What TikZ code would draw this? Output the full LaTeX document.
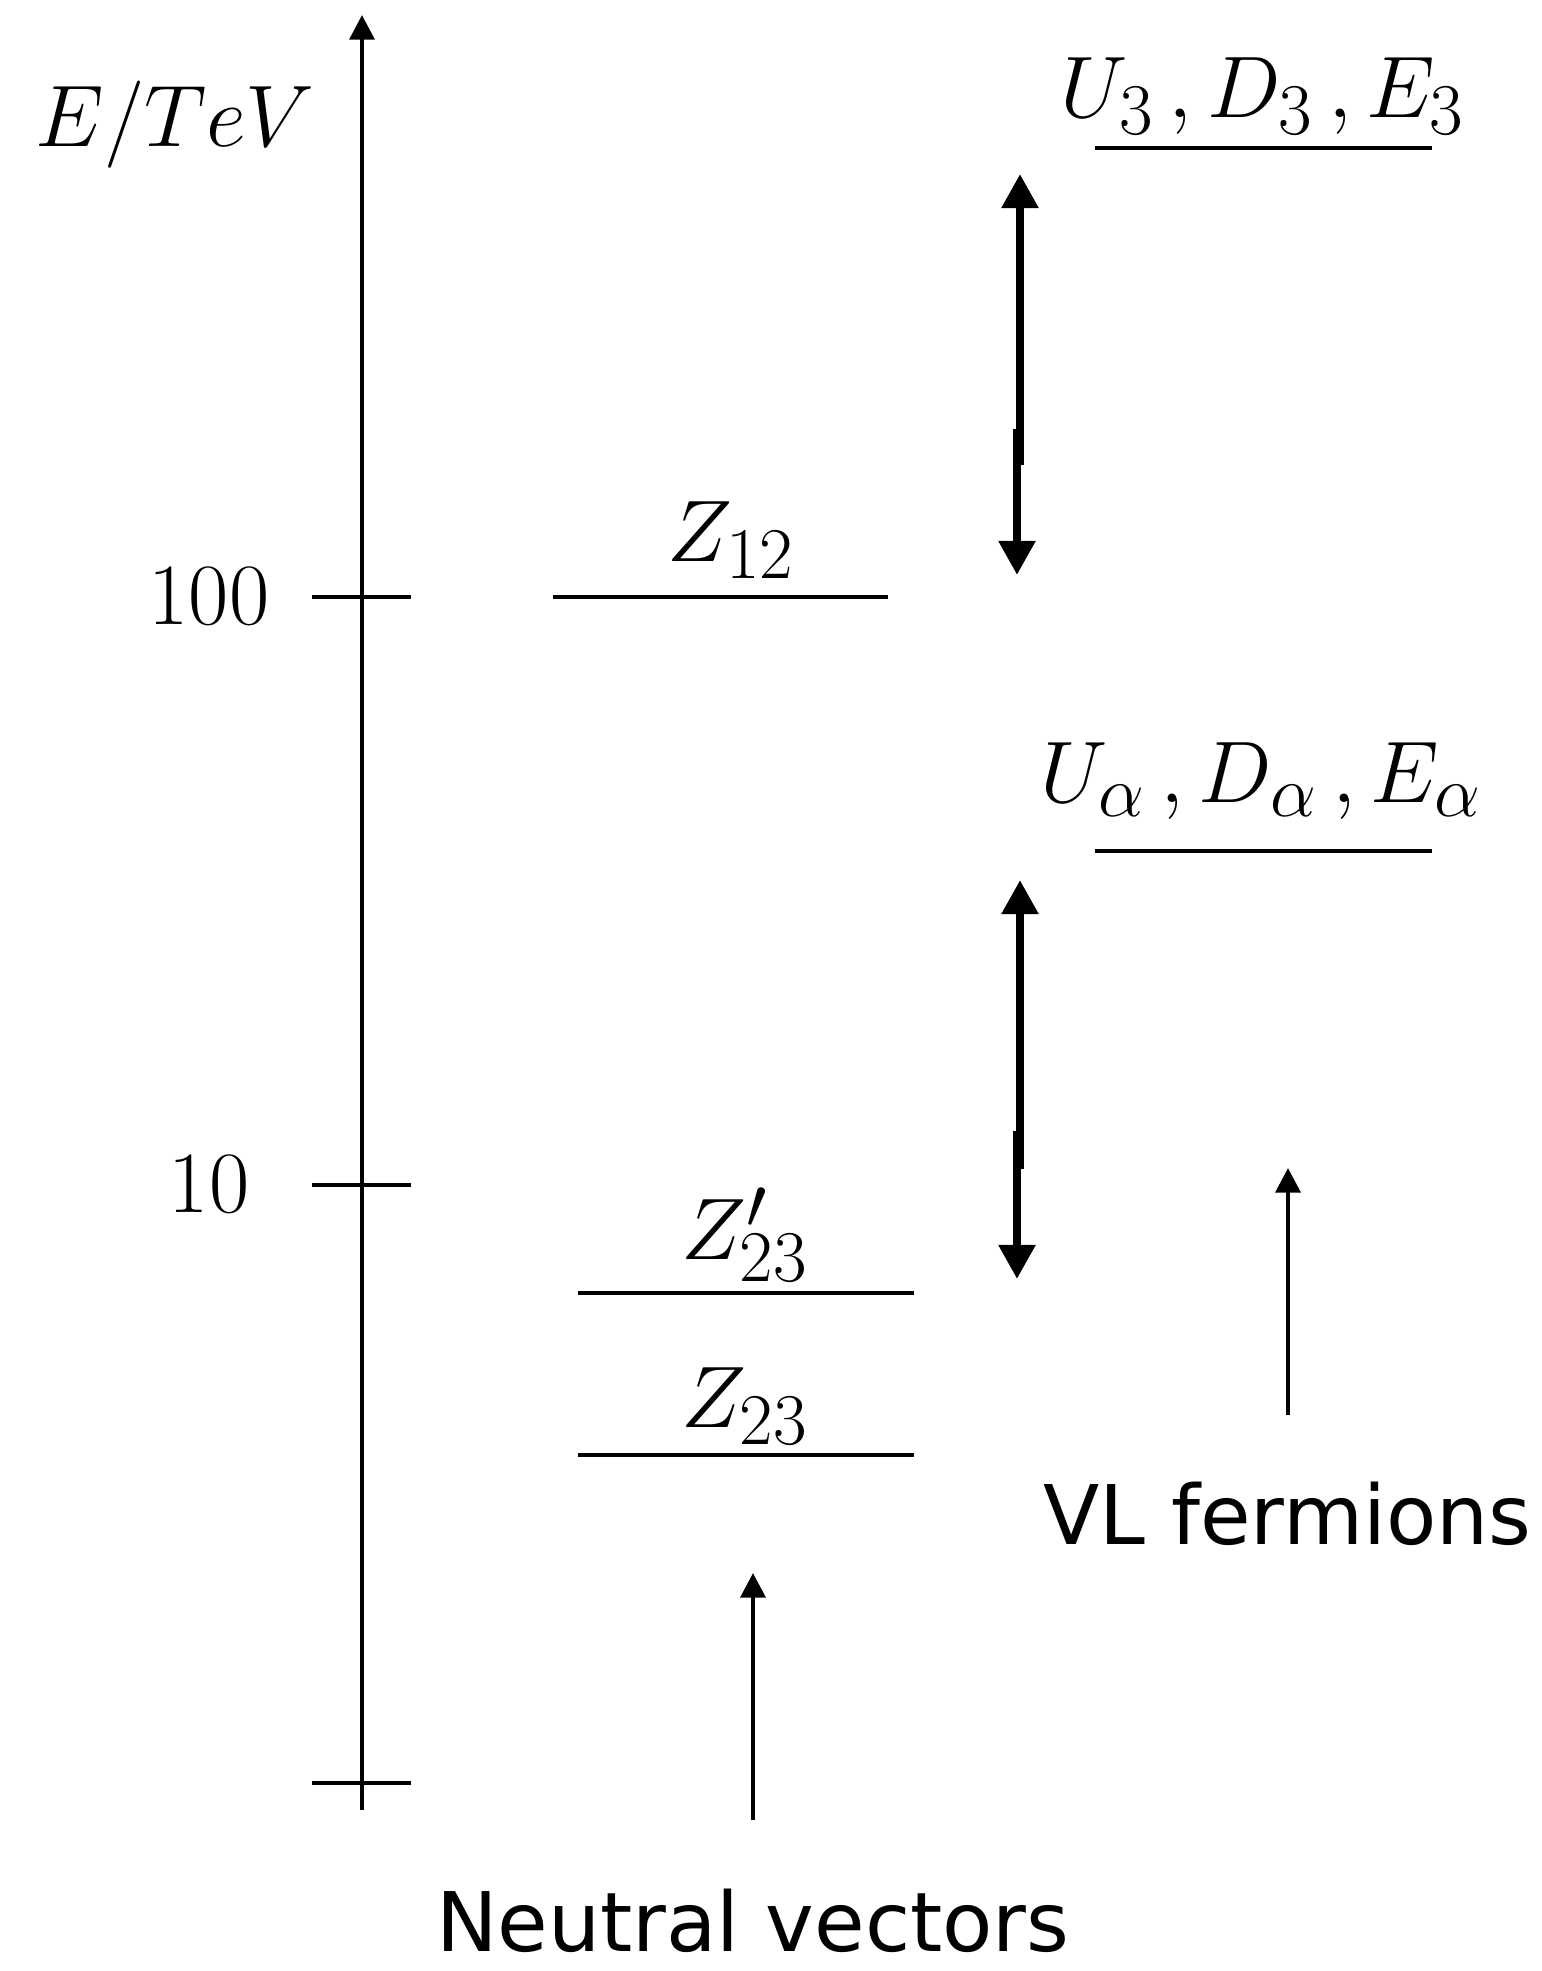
\documentclass[tikz,border=0pt]{standalone}
\usepackage{fontspec}
\newfontfamily\captionfont{DejaVu Sans}
\usetikzlibrary{arrows.meta}

\begin{document}
\begin{tikzpicture}[
    axis/.style={-{Triangle[length=7pt, width=7pt]}, line width=1.2pt},
    tickmark/.style={line width=1.2pt},
    level/.style={line width=1.2pt},
    gap/.style={-{Triangle[length=9.7pt, width=10pt]}, line width=2.3pt},
    pointer/.style={-{Triangle[length=7pt, width=7pt]}, line width=1.3pt},
    levellabel/.style={font=\Huge, anchor=base, inner sep=0pt},
    ticklabel/.style={font=\Huge, anchor=base, inner sep=0pt},
    caption/.style={font=\captionfont\fontsize{23.4pt}{28pt}\selectfont, anchor=base, inner sep=0pt},
]
\useasboundingbox (0,0) rectangle (15.42,19.71);

% Energy axis
\coordinate (axis-bot) at (3.62,1.61);
\coordinate (axis-top) at (3.62,19.56);
\draw[axis] (axis-bot) -- (axis-top);
\node[levellabel, anchor=base west] (unit) at (0.35,18.24) {$E/TeV$};

% Ticks
\foreach \y/\name in {13.74/t100, 7.86/t10, 1.88/t1} {
    \coordinate (\name-l) at (3.12,\y);
    \coordinate (\name-r) at (4.11,\y);
    \draw[tickmark] (\name-l) -- (\name-r);
}
\node[ticklabel] (lab100) at (2.09,13.46) {100};
\node[ticklabel] (lab10) at (2.09,7.58) {10};

% Neutral vectors
\coordinate (z12-l) at (5.53,13.74);
\coordinate (z12-r) at (8.88,13.74);
\draw[level] (z12-l) -- (z12-r);
\node[levellabel] (z12) at (7.31,14.09) {$Z_{12}$};

\coordinate (z23p-l) at (5.78,6.78);
\coordinate (z23p-r) at (9.14,6.78);
\draw[level] (z23p-l) -- (z23p-r);
\node[levellabel] (z23p) at (7.45,7.11) {$Z'_{23}$};

\coordinate (z23-l) at (5.78,5.16);
\coordinate (z23-r) at (9.14,5.16);
\draw[level] (z23-l) -- (z23-r);
\node[levellabel] (z23) at (7.45,5.43) {$Z_{23}$};

\node[caption] (nv) at (7.53,0.2) {Neutral vectors};
\coordinate (nv-tail) at (7.53,1.51);
\coordinate (nv-head) at (7.53,3.98);
\draw[pointer] (nv-tail) -- (nv-head);

% VL fermions
\coordinate (f3-l) at (10.95,18.23);
\coordinate (f3-r) at (14.32,18.23);
\draw[level] (f3-l) -- (f3-r);
\node[levellabel] (f3) at (12.63,18.53) {$U_3\,, D_3\,, E_3$};

\coordinate (fa-l) at (10.95,11.20);
\coordinate (fa-r) at (14.32,11.20);
\draw[level] (fa-l) -- (fa-r);
\node[levellabel] (fa) at (12.61,11.68) {$U_\alpha\,, D_\alpha\,, E_\alpha$};

\node[caption] (vl) at (12.875,4.26) {VL fermions};
\coordinate (vl-tail) at (12.88,5.56);
\coordinate (vl-head) at (12.88,8.03);
\draw[pointer] (vl-tail) -- (vl-head);

% Gaps
\coordinate (g1-mid-up) at (10.20,15.06);
\coordinate (g1-top) at (10.20,17.97);
\coordinate (g1-mid-dn) at (10.17,15.42);
\coordinate (g1-bot) at (10.17,13.96);
\draw[gap] (g1-mid-up) -- (g1-top);
\draw[gap] (g1-mid-dn) -- (g1-bot);

\coordinate (g2-mid-up) at (10.20,8.02);
\coordinate (g2-top) at (10.20,10.91);
\coordinate (g2-mid-dn) at (10.17,8.40);
\coordinate (g2-bot) at (10.17,6.92);
\draw[gap] (g2-mid-up) -- (g2-top);
\draw[gap] (g2-mid-dn) -- (g2-bot);

\end{tikzpicture}
\end{document}
